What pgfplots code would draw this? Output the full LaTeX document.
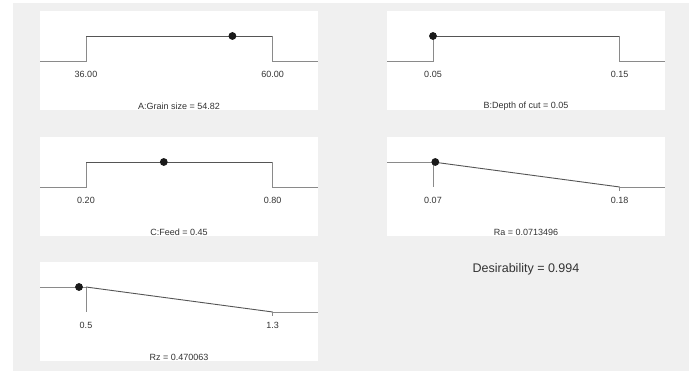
\documentclass[border=0pt]{standalone}
\usepackage{pgfplots}
\pgfplotsset{compat=1.18}
\usepackage{fontspec}
\setmainfont{Liberation Sans}
\definecolor{bg}{HTML}{F0F0F0}
\definecolor{lo}{HTML}{8A8A8A}
\definecolor{hi}{HTML}{555555}
\definecolor{txt}{HTML}{333333}
\definecolor{dot}{HTML}{1A1A1A}
\pgfplotsset{
  panel/.style={scale only axis, width=278pt, height=99pt, anchor=north west,
    ymin=-1.96, ymax=2, axis line style={draw=none}, ticks=none,
    axis background/.style={fill=white}, clip=false,
    every axis plot/.append style={line width=0.9pt}},
}
\tikzset{lbl/.style={font=\fontsize{9}{10}\selectfont, text=txt, inner sep=0pt}}
\begin{document}
\begin{tikzpicture}
\useasboundingbox (0,0) rectangle (689pt,-371pt);
\fill[white] (0,0) rectangle (689pt,-371pt);
\fill[bg] (13pt,-3pt) rectangle (689pt,-371pt);
% A: Grain size
\begin{axis}[panel, at={(40pt,-11pt)}, xmin=30.087, xmax=65.823]
\addplot[lo, no marks] coordinates {(30.087,0) (36,0) (36,1)};
\addplot[hi, no marks] coordinates {(36,1) (60,1)};
\addplot[lo, no marks] coordinates {(60,1) (60,0) (65.823,0)};
\addplot[dot, only marks, mark=*, mark size=3.4pt] coordinates {(54.82,1)};
\node[lbl] at (axis cs:36,-0.52) {36.00};
\node[lbl] at (axis cs:60,-0.52) {60.00};
\node[lbl] at (rel axis cs:0.5,0.035) {A:Grain size = 54.82};
\end{axis}
% B: Depth of cut
\begin{axis}[panel, at={(387pt,-11pt)}, xmin=0.02536, xmax=0.17426]
\addplot[lo, no marks] coordinates {(0.02536,0) (0.05,0) (0.05,1)};
\addplot[hi, no marks] coordinates {(0.05,1) (0.15,1)};
\addplot[lo, no marks] coordinates {(0.15,1) (0.15,0) (0.17426,0)};
\addplot[dot, only marks, mark=*, mark size=3.4pt] coordinates {(0.05,1)};
\node[lbl] at (axis cs:0.05,-0.52) {0.05};
\node[lbl] at (axis cs:0.15,-0.52) {0.15};
\node[lbl] at (rel axis cs:0.5,0.035) {B:Depth of cut = 0.05};
\end{axis}
% C: Feed
\begin{axis}[panel, at={(40pt,-137pt)}, xmin=0.05217, xmax=0.94558]
\addplot[lo, no marks] coordinates {(0.05217,0) (0.2,0) (0.2,1)};
\addplot[hi, no marks] coordinates {(0.2,1) (0.8,1)};
\addplot[lo, no marks] coordinates {(0.8,1) (0.8,0) (0.94558,0)};
\addplot[dot, only marks, mark=*, mark size=3.4pt] coordinates {(0.45,1)};
\node[lbl] at (axis cs:0.2,-0.52) {0.20};
\node[lbl] at (axis cs:0.8,-0.52) {0.80};
\node[lbl] at (rel axis cs:0.5,0.035) {C:Feed = 0.45};
\end{axis}
% Ra
\begin{axis}[panel, at={(387pt,-137pt)}, xmin=0.042898, xmax=0.20669]
\addplot[lo, no marks] coordinates {(0.042898,1) (0.07,1)};
\addplot[lo, no marks] coordinates {(0.07,1) (0.07,0)};
\addplot[hi, no marks] coordinates {(0.07,1) (0.18,0)};
\addplot[lo, no marks] coordinates {(0.18,0) (0.20669,0)};
\addplot[lo, no marks] coordinates {(0.18,0) (0.18,-0.18)};
\addplot[dot, only marks, mark=*, mark size=3.4pt] coordinates {(0.0713496,1)};
\node[lbl] at (axis cs:0.07,-0.52) {0.07};
\node[lbl] at (axis cs:0.18,-0.52) {0.18};
\node[lbl] at (rel axis cs:0.5,0.035) {Ra = 0.0713496};
\end{axis}
% Rz
\begin{axis}[panel, at={(40pt,-262pt)}, xmin=0.30289, xmax=1.49411]
\addplot[lo, no marks] coordinates {(0.30289,1) (0.5,1)};
\addplot[lo, no marks] coordinates {(0.5,1) (0.5,0)};
\addplot[hi, no marks] coordinates {(0.5,1) (1.3,0)};
\addplot[lo, no marks] coordinates {(1.3,0) (1.49411,0)};
\addplot[lo, no marks] coordinates {(1.3,0) (1.3,-0.18)};
\addplot[dot, only marks, mark=*, mark size=3.4pt] coordinates {(0.470063,1)};
\node[lbl] at (axis cs:0.5,-0.52) {0.5};
\node[lbl] at (axis cs:1.3,-0.52) {1.3};
\node[lbl] at (rel axis cs:0.5,0.035) {Rz = 0.470063};
\end{axis}
\node[font=\fontsize{12.5}{14}\selectfont, text=txt] at (526pt,-269pt) {Desirability = 0.994};
\end{tikzpicture}
\end{document}
